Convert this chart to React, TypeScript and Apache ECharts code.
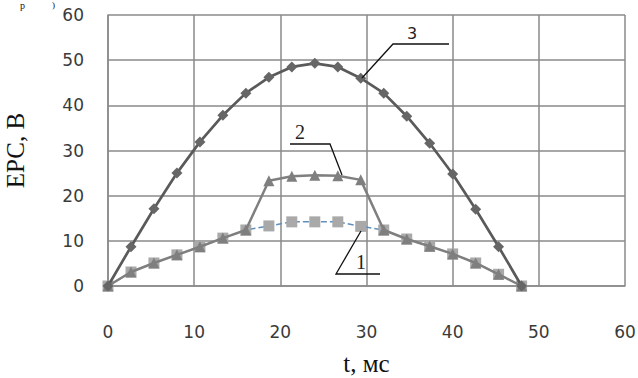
import React, { useEffect, useRef } from "react";
import * as echarts from "echarts";

const tValues = [0, 2.67, 5.33, 8, 10.67, 13.33, 16, 18.67, 21.33, 24, 26.67, 29.33, 32, 34.67, 37.33, 40, 42.67, 45.33, 48];
const series1 = [0, 3.1, 5.1, 6.9, 8.7, 10.6, 12.4, 13.3, 14.2, 14.2, 14.2, 13.2, 12.4, 10.4, 8.8, 7.1, 5.1, 2.6, 0];
const series2 = [0, 3.1, 5.1, 6.9, 8.7, 10.6, 12.4, 23.3, 24.3, 24.5, 24.4, 23.5, 12.4, 10.4, 8.8, 7.1, 5.1, 2.6, 0];
const series3 = [0, 8.7, 17.1, 25, 31.9, 37.8, 42.7, 46.2, 48.5, 49.3, 48.5, 46, 42.7, 37.6, 31.6, 24.8, 17, 8.7, 0];
const axisTicks = [0, 10, 20, 30, 40, 50, 60];
const xTitle = "t, мс";
const yTitle = "ЕРС, В";

const pair = (ys: number[]) => tValues.map((t, i) => [t, ys[i]]);

export default function App() {
  const ref = useRef<HTMLDivElement>(null);
  useEffect(() => {
    if (!ref.current) return;
    const chart = echarts.init(ref.current, null, { renderer: "svg" });
    const gridColor = "#8a8a8a";
    const tickFont = { fontFamily: "DejaVu Sans", fontSize: 17, color: "#3a3a3a" };
    chart.setOption({
      animation: false,
      backgroundColor: "#ffffff",
      grid: { left: 108, right: 13, top: 15, bottom: 92, containLabel: false, outerBoundsMode: "none" },
      xAxis: {
        type: "value",
        min: axisTicks[0],
        max: axisTicks[axisTicks.length - 1],
        interval: 10,
        axisLine: { show: true, lineStyle: { color: gridColor, width: 1.5 } },
        axisTick: { show: false },
        splitLine: { show: true, lineStyle: { color: gridColor, width: 1.5 } },
        axisLabel: { ...tickFont, margin: 37 },
        name: xTitle,
        nameLocation: "middle",
        nameGap: 65,
        nameTextStyle: { fontFamily: "Liberation Serif", fontSize: 25, color: "#111" },
      },
      yAxis: {
        type: "value",
        min: axisTicks[0],
        max: axisTicks[axisTicks.length - 1],
        interval: 10,
        axisLine: { show: true, lineStyle: { color: gridColor, width: 1.5 } },
        axisTick: { show: false },
        splitLine: { show: true, lineStyle: { color: gridColor, width: 1.5 } },
        axisLabel: { ...tickFont, margin: 24 },
        name: yTitle,
        nameLocation: "middle",
        nameGap: 80,
        nameRotate: 90,
        nameTextStyle: { fontFamily: "Liberation Serif", fontSize: 25, color: "#111" },
      },
      series: [
        {
          type: "line",
          data: pair(series1),
          symbol: "rect",
          symbolSize: 11,
          itemStyle: { color: "#a9a9a9" },
          lineStyle: { color: "#5f8fbd", width: 1.5, type: [6, 3] },
          z: 2,
        },
        {
          type: "line",
          data: pair(series2),
          symbol: "triangle",
          symbolSize: 11,
          itemStyle: { color: "#7f7f7f" },
          lineStyle: { color: "#7f7f7f", width: 2.5 },
          z: 3,
        },
        {
          type: "line",
          data: pair(series3),
          symbol: "diamond",
          symbolSize: 11,
          itemStyle: { color: "#666666" },
          lineStyle: { color: "#5a5a5a", width: 2.7 },
          z: 4,
        },
      ],
      graphic: [
        { type: "text", x: 20, y: 0, style: { text: "р", fontFamily: "Liberation Serif", fontSize: 10, fill: "#111", verticalAlign: "top" } },
        { type: "text", x: 52, y: 0, style: { text: ")", fontFamily: "Liberation Serif", fontSize: 9, fill: "#111", verticalAlign: "top" } },
        { type: "polyline", shape: { points: [[362, 78], [393, 44], [449, 44]] }, style: { stroke: "#111", lineWidth: 1.3, fill: null }, z: 10 },
        { type: "text", x: 412, y: 33, style: { text: "3", fontFamily: "DejaVu Sans", fontSize: 16, fill: "#222", align: "center", verticalAlign: "middle" }, z: 10 },
        { type: "polyline", shape: { points: [[290, 144], [330, 144], [342, 175]] }, style: { stroke: "#111", lineWidth: 1.3, fill: null }, z: 10 },
        { type: "text", x: 300, y: 132, style: { text: "2", fontFamily: "Liberation Serif", fontSize: 20, fill: "#222", align: "center", verticalAlign: "middle" }, z: 10 },
        { type: "polyline", shape: { points: [[361, 231], [336, 274], [380, 274]] }, style: { stroke: "#111", lineWidth: 1.3, fill: null }, z: 10 },
        { type: "text", x: 361, y: 262, style: { text: "1", fontFamily: "Liberation Serif", fontSize: 20, fill: "#222", align: "center", verticalAlign: "middle" }, z: 10 },
      ],
    });
    return () => chart.dispose();
  }, []);
  return <div ref={ref} style={{ width: 638, height: 378, position: "absolute", left: 0, top: 0 }} />;
}
